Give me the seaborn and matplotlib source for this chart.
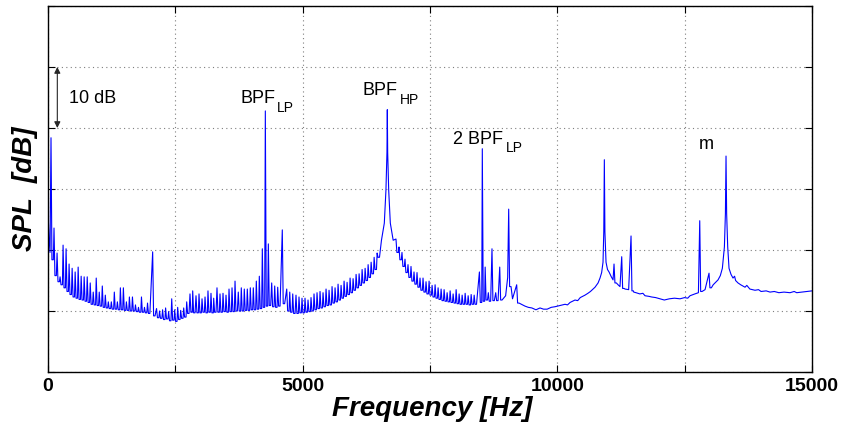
import numpy as np
import pandas as pd
import matplotlib
matplotlib.use("Agg")
import matplotlib.pyplot as plt
import seaborn as sns

# ---------------- data ----------------
# broadband / smooth parts of the spectrum (Hz, dB)
broadband_freq = [0, 20, 40,
                  6547, 6603, 6635, 6655, 6662, 6669, 6689, 6721, 6777,
                  8985, 9025, 9120,
                  9365, 9430, 9500, 9580, 9660, 9730, 9800, 9880, 9954, 10050, 10151,
                  10200, 10250, 10347, 10400, 10450, 10543, 10600, 10650, 10740, 10800,
                  10838, 10870, 10897, 10912, 10923, 10934, 10956, 10985, 11015, 11060,
                  11094, 11192, 11230, 11330, 11400, 11500, 11545, 11620, 11680, 11722,
                  11800, 11850, 11930, 12016, 12100, 12200, 12300, 12409, 12500, 12560,
                  12605, 12700, 12770, 12900, 13060, 13120, 13155, 13200, 13240, 13280,
                  13300, 13312, 13324, 13345, 13371, 13410, 13449, 13480, 13500, 13547,
                  13600, 13685, 13720, 13780, 13881, 13950, 14000, 14100, 14176, 14260,
                  14350, 14450, 14569, 14650, 14700, 14800, 14900, 15000]
broadband_db = [26.6, 22.0, 19.6,
                21.6, 24.4, 29.8, 36.0, 43.0, 36.0, 29.8, 24.4, 21.6,
                12.5, 15.5, 12.0,
                10.8, 10.6, 10.5, 10.2, 10.5, 10.3, 10.3, 10.6, 10.7, 10.9, 11.1,
                11.0, 11.4, 11.8, 11.7, 12.2, 12.6, 12.9, 13.2, 13.9, 14.6,
                15.4, 16.3, 18.0, 23.0, 34.8, 23.0, 18.0, 16.8, 16.4, 15.6,
                15.1, 14.3, 14.0, 13.6, 13.5, 13.1, 13.0, 12.8, 12.9, 12.5,
                12.4, 12.3, 12.2, 12.0, 11.8, 12.0, 12.1, 12.0, 12.2, 12.1,
                12.5, 12.8, 13.0, 13.5, 14.3, 14.8, 15.1, 15.8, 17.0, 20.5,
                26.0, 35.4, 26.0, 20.5, 17.0, 16.0, 15.4, 15.7, 15.0, 14.6,
                14.3, 13.9, 14.2, 13.6, 13.4, 13.5, 13.2, 13.3, 13.1, 13.2,
                13.0, 13.1, 13.0, 13.2, 13.0, 13.1, 13.2, 13.3]

# narrow tonal spikes (harmonic comb and tones): frequency, peak level, floor level after it
spike_freq = [59, 118, 178, 237, 296, 355, 414, 474, 533, 592, 651, 710, 770, 829, 888,
              947, 1006, 1066, 1125, 1184, 1243, 1302, 1362, 1421, 1480, 1539, 1598,
              1658, 1717, 1776, 1835, 1894, 1954, 2055, 2131, 2190, 2250, 2309,
              2368, 2429, 2487, 2546, 2605, 2664, 2723,
              2788, 2841, 2906, 2965, 3024, 3083, 3141, 3200, 3253, 3318, 3377, 3436,
              3495, 3554, 3613, 3672, 3736, 3795, 3854, 3913, 3972, 4031, 4090, 4149,
              4208, 4267, 4326, 4392, 4451, 4510, 4600, 4687, 4746, 4805, 4869, 4928,
              4987, 5046, 5105, 5164,
              5223, 5282, 5341, 5400, 5459, 5518, 5577, 5636, 5695, 5754, 5813, 5872,
              5931, 5990, 6049, 6108, 6167, 6226, 6285, 6344, 6403, 6462,
              6832, 6891, 6950, 7009, 7068, 7127, 7186, 7245, 7304, 7363, 7422, 7482,
              7541, 7600, 7659, 7718, 7777, 7836, 7895, 7954, 8013, 8072, 8131, 8190,
              8249, 8308, 8367,
              8470, 8527, 8583, 8645, 8717, 8790, 8869, 9045, 9202,
              11113, 11264, 11447, 12796, 12978]
spike_peak = [38.4, 23.6, 19.5, 15.6, 20.8, 20.2, 17.7, 17.0, 16.4, 17.2, 15.7, 15.6, 15.6, 14.6, 13.1,
              15.4, 13.1, 14.1, 12.6, 11.5, 11.5, 13.1, 11.5, 13.8, 13.8, 11.5, 12.3,
              12.3, 11.0, 10.6, 12.3, 10.6, 11.3, 19.7, 10.4, 10.0, 10.2, 10.5,
              9.9, 12.0, 10.2, 10.6, 10.1, 10.5, 11.5,
              12.8, 13.3, 12.5, 12.8, 12.0, 12.3, 13.3, 12.9, 12.1, 13.8, 12.8, 12.9,
              12.6, 13.6, 13.8, 14.9, 13.1, 13.8, 13.6, 13.6, 13.8, 13.8, 14.9, 15.7,
              20.2, 42.8, 21.0, 14.6, 14.1, 13.9, 23.3, 13.6, 13.1, 12.8, 12.6, 12.3,
              12.1, 12.1, 11.8, 12.2,
              12.8, 13.0, 13.2, 13.0, 13.6, 13.4, 14.0, 13.8, 14.4, 14.2, 14.9, 14.7,
              15.4, 15.3, 16.0, 16.1, 16.8, 17.0, 17.6, 18.0, 18.8, 19.5,
              21.8, 20.5, 19.6, 18.5, 17.6, 17.3, 16.4, 16.3, 15.4, 15.4, 14.8, 14.9,
              14.2, 14.3, 13.8, 13.6, 13.5, 13.0, 13.3, 12.8, 13.5, 12.8, 12.6, 12.9,
              12.5, 12.7, 12.6,
              16.4, 36.6, 17.2, 13.0, 20.2, 13.0, 17.2, 26.7, 14.3,
              17.7, 18.9, 22.3, 24.8, 16.2]
spike_floor = [18.4, 15.8, 14.8, 14.3, 13.8, 13.2, 12.7, 12.3, 12.1, 11.9, 11.8, 11.6, 11.4, 11.1, 11.0,
               10.9, 10.8, 10.6, 10.5, 10.4, 10.3, 10.3, 10.2, 10.2, 10.1, 10.1, 10.0,
               10.0, 9.9, 9.8, 9.8, 9.7, 9.6, 9.2, 8.9, 8.8, 8.6, 8.7,
               8.4, 8.5, 8.3, 8.6, 8.8, 9.0, 9.6,
               9.8, 9.7, 9.7, 9.7, 9.8, 9.7, 9.8, 9.7, 9.8, 9.8, 9.8, 9.9,
               9.8, 9.9, 9.9, 10.0, 10.0, 10.0, 10.1, 10.1, 10.2, 10.2, 10.3, 10.4,
               10.6, 10.8, 10.9, 10.7, 10.6, 10.8, 11.2, 10.0, 9.8, 9.6, 9.6, 9.7,
               9.7, 9.8, 9.9, 10.0,
               10.2, 10.4, 10.5, 10.7, 10.9, 11.0, 11.3, 11.5, 11.8, 12.1, 12.4, 12.7,
               13.0, 13.4, 13.8, 14.2, 14.6, 15.0, 15.5, 16.1, 16.8, 18.8,
               19.6, 18.4, 17.3, 16.3, 15.5, 14.9, 14.4, 13.9, 13.4, 13.1, 12.8, 12.6,
               12.3, 12.1, 11.9, 11.7, 11.6, 11.5, 11.4, 11.3, 11.2, 11.1, 11.1, 11.1,
               11.0, 11.1, 11.1,
               11.4, 11.6, 11.8, 11.6, 11.7, 11.7, 11.8, 14.0, 11.3,
               14.6, 13.7, 13.3, 13.2, 13.8]

x_tick_values = [0, 2500, 5000, 7500, 10000, 12500, 15000]
x_tick_labels = ["0", "", "5000", "", "10000", "", "15000"]
y_tick_values = [0, 10, 20, 30, 40, 50, 60]

# ---------------- build the line ----------------
DECAY_END = 18   # Hz after a spike where it is back on its floor
HOLD_END = 46    # Hz after a spike where the floor is still held
freq_all = (list(broadband_freq) + list(spike_freq)
            + [f + DECAY_END for f in spike_freq] + [f + HOLD_END for f in spike_freq])
spl_all = list(broadband_db) + list(spike_peak) + list(spike_floor) + list(spike_floor)
df = pd.DataFrame({"Frequency": freq_all, "SPL": spl_all})
df = df.sort_values("Frequency", kind="stable").reset_index(drop=True)

# ---------------- style ----------------
sns.set_theme(style="white")
plt.rcParams["font.family"] = ["Liberation Sans", "DejaVu Sans"]
plt.rcParams["text.color"] = "black"
plt.rcParams["axes.labelcolor"] = "black"
plt.rcParams["xtick.color"] = "black"
plt.rcParams["ytick.color"] = "black"

fig = plt.figure(figsize=(8.41, 4.28), dpi=100)
ax = fig.add_axes([48 / 841, 1 - 372 / 428, 764 / 841, 366 / 428])

sns.lineplot(data=df, x="Frequency", y="SPL", sort=False, estimator=None,
             color="#0000ff", linewidth=0.8, ax=ax)

ax.set_xlim(0, 15000)
ax.set_ylim(0, 60)
ax.set_xticks(x_tick_values)
ax.set_xticklabels(x_tick_labels, fontsize=14, fontweight="bold", color="black")
ax.set_yticks(y_tick_values)
ax.set_yticklabels([])
ax.grid(True, linestyle=(0, (1, 3)), color="#7f7f7f", linewidth=0.8)
ax.tick_params(direction="in", length=5, width=0.8, top=True, right=True,
               bottom=True, left=True, colors="black", pad=4)
for s in ax.spines.values():
    s.set_visible(True)
    s.set_color("black")
    s.set_linewidth(1.0)

ax.set_xlabel("Frequency [Hz]", fontsize=20, fontweight="bold", fontstyle="italic",
              va="baseline", color="black")
ax.xaxis.set_label_coords(0.503, (372 - 416) / 366)
ax.set_ylabel("SPL  [dB]", fontsize=20, fontweight="bold", fontstyle="italic",
              va="center", color="black")
ax.yaxis.set_label_coords((25 - 48) / 764, (372 - 188.5) / 366)

# annotations
fs_main, fs_sub = 13, 10
ax.text(412, 44.1, "10 dB", fontsize=fs_main, va="baseline", ha="left", color="black")
ax.annotate("", xy=(183, 50), xytext=(183, 40),
            arrowprops=dict(arrowstyle="<|-|>", color="0.15", lw=0.8,
                            mutation_scale=9, shrinkA=0, shrinkB=0))
ax.text(3770, 44.1, "BPF", fontsize=fs_main, va="baseline", ha="left", color="black")
ax.text(4496, 42.7, "LP", fontsize=fs_sub, va="baseline", ha="left", color="black")
ax.text(6165, 45.4, "BPF", fontsize=fs_main, va="baseline", ha="left", color="black")
ax.text(6911, 43.9, "HP", fontsize=fs_sub, va="baseline", ha="left", color="black")
ax.text(7952, 37.4, "2 BPF", fontsize=fs_main, va="baseline", ha="left", color="black")
ax.text(8992, 36.1, "LP", fontsize=fs_sub, va="baseline", ha="left", color="black")
ax.text(12782, 36.6, "m", fontsize=fs_main, va="baseline", ha="left", color="black")

fig.savefig("out.png", dpi=100)
